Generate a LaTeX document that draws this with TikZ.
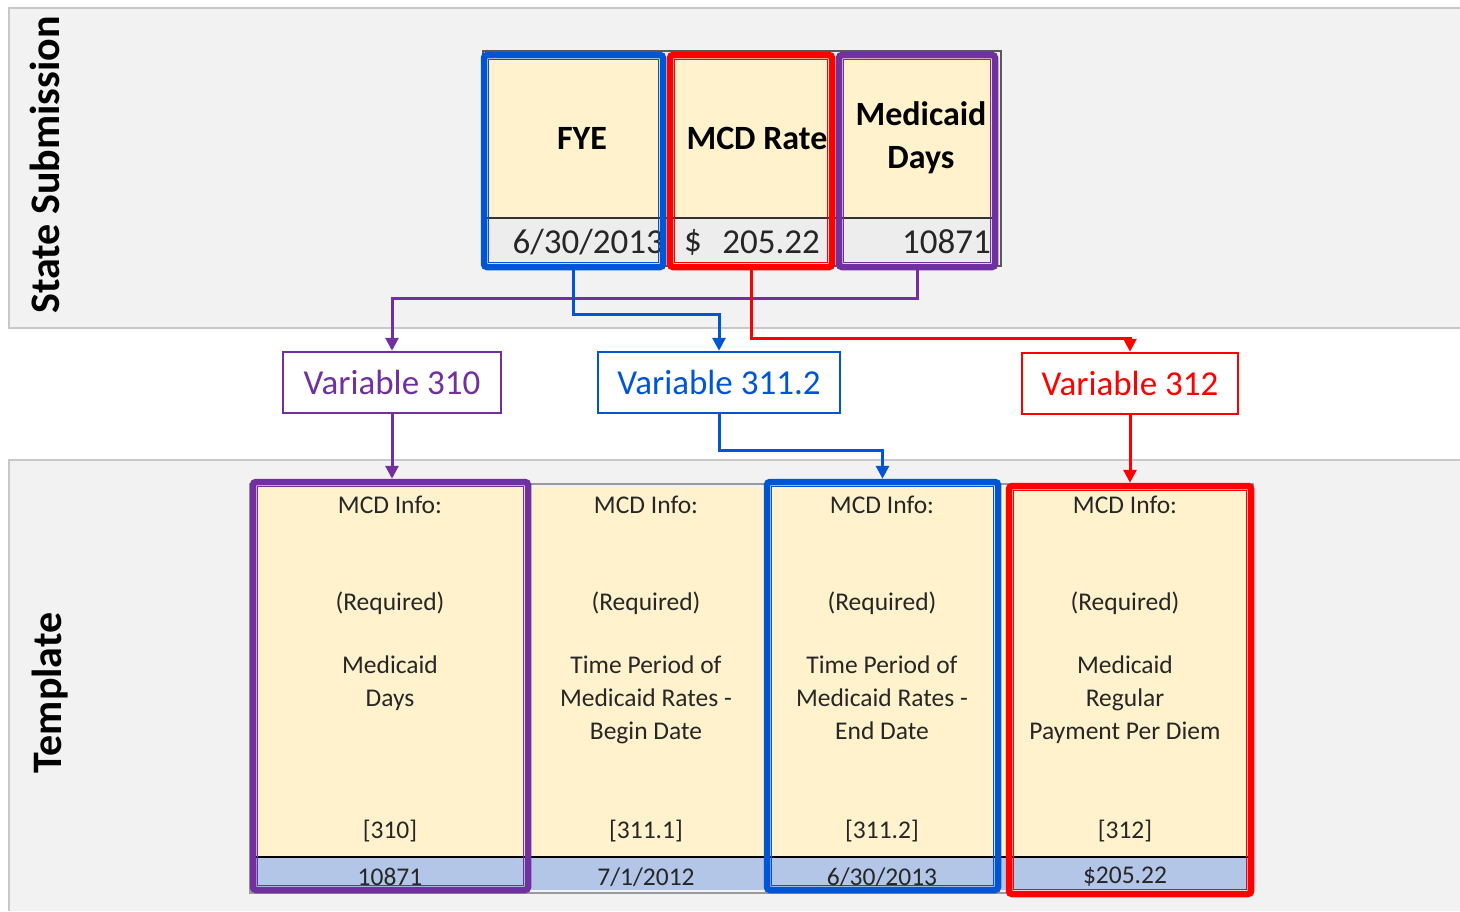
\documentclass[tikz,border=0pt]{standalone}
\usepackage{fontspec}
\setmainfont{Carlito}
\usetikzlibrary{arrows.meta,calc}

\definecolor{cpurple}{HTML}{7030A0}
\definecolor{cblue}{HTML}{0055D4}
\definecolor{cred}{HTML}{FF0000}
\definecolor{cyellow}{HTML}{FFF2CC}
\definecolor{cband}{HTML}{F2F2F2}
\definecolor{cbandline}{HTML}{C8C8C8}
\definecolor{cdata}{HTML}{EDEDED}
\definecolor{cvalue}{HTML}{B4C6E7}
\definecolor{ctext}{HTML}{262626}

\tikzset{
  sidelabel/.style={rotate=90, font=\fontsize{42}{46}\selectfont\bfseries},
  hdr/.style={font=\fontsize{34}{43}\selectfont\bfseries, align=center, inner sep=0},
  val/.style={font=\fontsize{35}{38}\selectfont, text=ctext, inner sep=0},
  frame/.style={draw=#1, line width=6.5pt, rounded corners=3pt, inner sep=0},
  varbox/.style={draw=#1, text=#1, fill=white, line width=2.5pt, inner sep=0,
    font=\fontsize{35}{38}\selectfont},
  info/.style={font=\fontsize{25.5}{33}\selectfont, text=ctext, align=center, inner sep=0},
  conn/.style={draw=#1, line width=3pt, -{Triangle[length=13pt,width=13pt]}},
}

\begin{document}
\begin{tikzpicture}[x=1pt,y=-1pt]
\useasboundingbox (0,0) rectangle (1460,911);
\fill[white] (0,0) rectangle (1460,911);

% two grey bands
\fill[cband] (9,8) rectangle (1460,328);
\draw[cbandline, line width=1.2pt] (1460,8) -- (9,8) -- (9,328) -- (1460,328);
\fill[cband] (9,460) rectangle (1460,911);
\draw[cbandline, line width=1.2pt] (1460,460) -- (9,460) -- (9,911);

\node[sidelabel] (lblState) at (45,165) {State Submission};
\node[sidelabel] (lblTemplate) at (50,693) {Template};

% ---- state submission table ----
\fill[cyellow] (486,56) rectangle (998,218);
\fill[cdata] (486,218) rectangle (998,264);
\draw[gray!70!black, line width=1.5pt] (483,51) rectangle (1001,266);
\draw[black!80, line width=1.5pt] (486,218) -- (998,218);

\node[hdr] (hFye) at (582,138) {FYE};
\node[hdr] (hRate) at (757,138) {MCD Rate};
\node[hdr] (hDays) at (921,138) {Medicaid\\Days};

\node[val, anchor=east] (dFye) at (664,242) {6/30/2013};
\node[val, anchor=west] (dDollar) at (684,242) {\$};
\node[val, anchor=east] (dRate) at (820,242) {205.22};
\node[val, anchor=east] (dDays) at (991,242) {10871};

\node[frame=cblue, minimum width=179pt, minimum height=212pt] (fyeFrame) at (573.5,161) {};
\node[frame=cred, minimum width=162pt, minimum height=212pt] (rateFrame) at (751,161) {};
\node[frame=cpurple, minimum width=156pt, minimum height=212pt] (daysFrame) at (917,161) {};
\foreach \f/\c in {fyeFrame/cblue, rateFrame/cred, daysFrame/cpurple}
  \draw[\c, line width=1pt] ($(\f.north west)+(7.5,7.5)$) rectangle ($(\f.south east)+(-7.5,-7.5)$);

% ---- variable boxes ----
\node[varbox=cpurple, minimum width=218pt, minimum height=61pt] (v310) at (392,382.5) {Variable 310};
\node[varbox=cblue, minimum width=242pt, minimum height=61pt] (v311) at (719,382.5) {Variable 311.2};
\node[varbox=cred, minimum width=216pt, minimum height=61pt] (v312) at (1130,383.5) {Variable 312};

% ---- template table ----
\fill[cyellow] (255,488) rectangle (1250,857);
\fill[cvalue] (255,857) rectangle (1250,890);
\draw[gray!80, line width=1.5pt] (250,484) rectangle (1253,893);
\draw[black, line width=2.5pt] (255,857) -- (1250,857);

\node[frame=cpurple, minimum width=275pt, minimum height=408pt] (col1) at (390.5,686) {};
\node[frame=cblue, minimum width=231pt, minimum height=408pt] (col3) at (882.5,686) {};
\node[frame=cred, minimum width=242pt, minimum height=408pt] (col4) at (1130,690) {};
\foreach \f/\c in {col1/cpurple, col3/cblue, col4/cred}
  \draw[\c, line width=1pt] ($(\f.north west)+(7.5,7.5)$) rectangle ($(\f.south east)+(-7.5,-7.5)$);

% column texts
\foreach \n/\x/\body/\code/\v in {
  a/390/{Medicaid\\Days}/{[310]}/{10871},
  b/646/{Time Period of\\Medicaid Rates -\\Begin Date}/{[311.1]}/{7/1/2012},
  c/882/{Time Period of\\Medicaid Rates -\\End Date}/{[311.2]}/{6/30/2013},
  d/1125/{Medicaid\\Regular\\Payment Per Diem}/{[312]}/{\$205.22}} {
  \node[info] (t\n) at (\x,505) {MCD Info:};
  \node[info] (r\n) at (\x,603) {(Required)};
  \node[info, anchor=north] (b\n) at (\x,656) {\body};
  \node[info] (c\n) at (\x,831) {\code};
  \node[info] (v\n) at (\x,877) {\v};
}

% ---- connectors ----
\draw[conn=cpurple] (daysFrame.south) -- ++(0,28) -| (v310.north);
\draw[conn=cblue] (fyeFrame.south) -- ++(0,44) -| (v311.north);
\draw[conn=cred] (rateFrame.south) -- ++(0,68) -| (v312.north);

\draw[conn=cpurple] (v310.south) -- (v310.south |- col1.north);
\draw[conn=cblue] (v311.south) -- ++(0,36) -| (col3.north);
\draw[conn=cred] (v312.south) -- (v312.south |- col4.north);
\end{tikzpicture}
\end{document}
